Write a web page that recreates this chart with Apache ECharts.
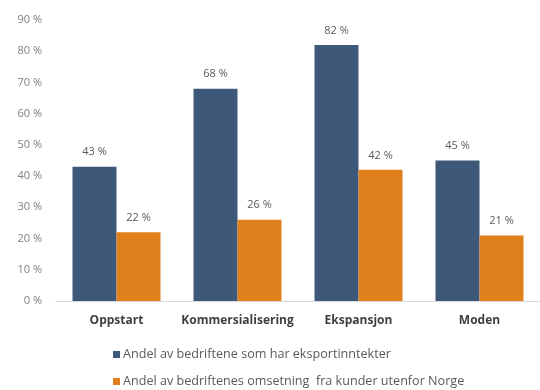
<!DOCTYPE html>
<html>
<head>
<meta charset="utf-8">
<script src="https://cdn.jsdelivr.net/npm/echarts@6/dist/echarts.min.js"></script>
<style>
  html, body { margin: 0; padding: 0; background: #ffffff; }
  #chart { width: 540px; height: 390px; }
</style>
</head>
<body>
<div id="chart"></div>
<script>
// Faser og andeler (prosent)
const categories = ['Oppstart', 'Kommersialisering', 'Ekspansjon', 'Moden'];
const exportShare = [43, 68, 82, 45];
const foreignRevenue = [22, 26, 42, 21];
const seriesNames = [
  'Andel av bedriftene som har eksportinntekter',
  'Andel av bedriftenes omsetning  fra kunder utenfor Norge'
];

const font = '"Open Sans", Lato, sans-serif';
const chart = echarts.init(document.getElementById('chart'), null, { renderer: 'canvas' });

// One legend block per row, stacked under the axis
const legendRow = (name, top) => ({
  show: true,
  orient: 'horizontal',
  left: 108,
  top: top,
  itemWidth: 7,
  itemHeight: 7,
  itemGap: 0,
  icon: 'rect',
  selectedMode: false,
  textStyle: { fontFamily: font, fontSize: 12.6, color: '#595959', padding: [0, 0, 0, -2] },
  data: [name]
});

chart.setOption({
  animation: false,
  textStyle: { fontFamily: font },
  grid: { left: 56, top: 20, width: 490, height: 281, containLabel: false },
  legend: [legendRow(seriesNames[0], 343), legendRow(seriesNames[1], 370)],
  xAxis: {
    type: 'category',
    data: categories,
    axisLine: { lineStyle: { color: '#d9d9d9', width: 1 } },
    axisTick: { show: false },
    axisLabel: { interval: 0, fontFamily: font, fontSize: 12, fontWeight: 'bold', color: '#404040', margin: 14 }
  },
  yAxis: {
    type: 'value',
    min: 0,
    max: 90,
    interval: 10,
    splitLine: { show: false },
    axisLine: { show: false },
    axisTick: { show: false },
    axisLabel: { fontFamily: font, fontSize: 11, color: '#7f7f7f', margin: 14, formatter: '{value} %' }
  },
  series: [
    {
      name: seriesNames[0],
      type: 'bar',
      data: exportShare,
      barWidth: 44,
      barGap: '0%',
      itemStyle: { color: '#3d5878' },
      label: { show: true, position: 'top', distance: 9, fontFamily: font, fontSize: 11, color: '#595959', formatter: '{c} %' }
    },
    {
      name: seriesNames[1],
      type: 'bar',
      data: foreignRevenue,
      barWidth: 44,
      barGap: '0%',
      itemStyle: { color: '#e0801c' },
      label: { show: true, position: 'top', distance: 9, fontFamily: font, fontSize: 11, color: '#595959', formatter: '{c} %' }
    }
  ]
});
</script>
</body>
</html>
